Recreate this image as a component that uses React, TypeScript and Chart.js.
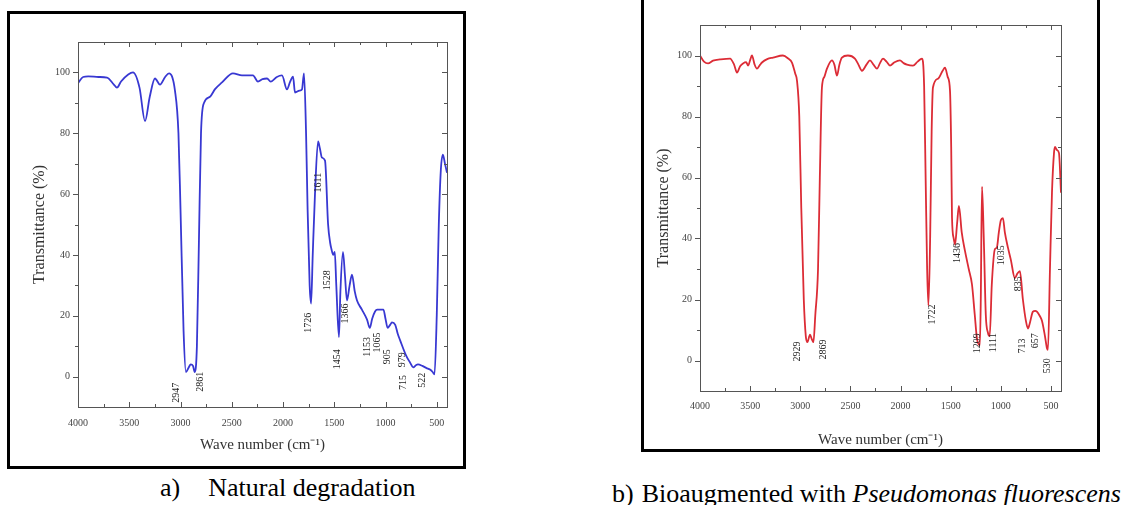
import React, { useEffect, useRef } from "react";
import { Chart, registerables } from "chart.js";

Chart.register(...registerables);

// ---------- Data: a) Natural degradation ----------
const natWavenumber = [
  4000, 3950, 3900, 3800, 3717, 3650, 3620, 3580, 3510, 3463, 3400, 3346, 3300, 3249, 3200, 3150, 3112,
  3054, 3020, 3000, 2970, 2947, 2920, 2900, 2878, 2861, 2840, 2820, 2800, 2770, 2712, 2663, 2595, 2488,
  2400, 2293, 2244, 2200, 2156, 2120, 2060, 2010, 1961, 1930, 1902, 1883, 1840, 1815, 1795, 1775, 1760,
  1740, 1726, 1710, 1688, 1658, 1640, 1620, 1590, 1560, 1540, 1528, 1510, 1495, 1480, 1454, 1440, 1415,
  1395, 1376, 1350, 1327, 1300, 1278, 1230, 1180, 1153, 1130, 1102, 1080, 1054, 1020, 1000, 979, 955,
  937, 905, 880, 858, 800, 760, 730, 700, 683, 640, 600, 566, 540, 522, 500, 480, 460, 440, 420, 400,
];
const natTransmittance = [
  96.5, 98.5, 98.7, 98.5, 98.3, 96, 95, 97, 99.3, 100, 95, 84, 92, 98, 96, 98.5, 99.7,
  94, 80, 55, 15, 1.5, 3, 4, 3.5, 1.5, 10, 45, 80, 90, 92, 94.5, 96.7, 99.7,
  99, 99, 97, 97.8, 98, 97, 98.5, 99, 94.4, 97, 98.6, 93.4, 94, 94.4, 99.7, 80, 55,
  30, 24, 40, 60, 77.3, 75, 72, 71, 50, 44, 42, 40, 41, 30, 13, 28, 41,
  33, 25, 30, 33.5, 28, 25, 22, 18.7, 16, 19, 21.4, 22, 22, 22, 19, 16, 17,
  17.8, 17, 14, 12, 7, 4.6, 3, 3.8, 4, 3.5, 2.8, 2.3, 1.5, 0.7, 20, 50, 68, 73, 70, 67,
];
const natPeakLabels = ["2947", "2861", "1726", "1611", "1528", "1454", "1366", "1153", "1065", "905", "979", "715", "522"];
const natLabelWavenumber = [3044, 2810, 1756, 1659, 1571, 1473, 1395, 1180, 1083, 985, 835, 825, 644];
const natLabelTop = [-2, 1.6, 21, 67, 35, 9, 24, 13, 14.5, 9, 8, 0.5, 1.3];

// ---------- Data: b) Bioaugmented with Pseudomonas fluorescens ----------
const bioWavenumber = [
  4000, 3960, 3920, 3870, 3800, 3700, 3660, 3631, 3600, 3571, 3540, 3520, 3500, 3482, 3455, 3432, 3400,
  3382, 3330, 3272, 3173, 3120, 3083, 3050, 3033, 3010, 2990, 2965, 2945, 2929, 2903, 2885, 2869, 2850,
  2823, 2805, 2784, 2760, 2734, 2684, 2660, 2634, 2610, 2585, 2525, 2455, 2420, 2385, 2340, 2305, 2270,
  2235, 2205, 2175, 2140, 2106, 2060, 2006, 1970, 1936, 1876, 1830, 1787, 1765, 1750, 1735, 1722, 1705,
  1690, 1677, 1627, 1580, 1557, 1530, 1507, 1495, 1487, 1470, 1457, 1436, 1418, 1390, 1358, 1320, 1288,
  1260, 1238, 1209, 1200, 1188, 1170, 1150, 1128, 1111, 1090, 1059, 1040, 1020, 1000, 979, 960, 929,
  900, 860, 835, 810, 780, 750, 730, 713, 680, 657, 640, 610, 590, 560, 540, 530, 510, 490, 470, 460,
  440, 420, 400,
];
const bioTransmittance = [
  100, 98, 97.4, 98.3, 98.7, 99, 97, 94.4, 96.5, 97.4, 97.8, 96.7, 98.5, 100, 97, 95.7, 97,
  97.7, 98.8, 99.3, 100, 99, 97.7, 94, 91.8, 80, 50, 20, 8, 6, 8.5, 7, 6, 15,
  30, 60, 89.5, 93, 95.7, 98.4, 97, 93.4, 97, 99.3, 100, 99, 97, 95, 97, 98.4, 97,
  95.7, 97.5, 99, 98, 96.7, 97.8, 98.4, 97.5, 97, 96.7, 98, 99, 90, 60, 30, 18, 40,
  75, 89.5, 92.4, 95, 96, 93, 88.5, 70, 47, 40, 38, 45, 50.7, 42, 36, 30, 25,
  15, 7.2, 5, 20, 57, 40, 15, 9, 8, 25, 36.5, 37, 42, 46, 46.7, 42, 37,
  33, 27, 28.5, 29.3, 20, 13, 10.5, 12, 16, 16.3, 16, 14.5, 13, 8, 4, 3.5, 30, 55, 68, 70,
  69, 68, 55,
];
const bioPeakLabels = ["2929", "2869", "1722", "1436", "1209", "1111", "1035", "835", "713", "657", "530"];
const bioLabelWavenumber = [3033, 2774, 1687, 1438, 1238, 1079, 999, 829, 790, 660, 540];
const bioLabelTop = [6.2, 6.9, 18.4, 38.5, 8.9, 8.9, 37.8, 27.6, 7.2, 8.9, 0.7];

// ---------- Axis ticks ----------
const xTickValues = [4000, 3500, 3000, 2500, 2000, 1500, 1000, 500];
const yTickValues = [0, 20, 40, 60, 80, 100];

const SERIF = '"Liberation Serif", "Times New Roman", serif';

type Pad = { left: number; right: number; top: number; bottom: number };

interface FtirProps {
  wn: number[];
  tr: number[];
  color: string;
  labels: string[];
  labelWn: number[];
  labelTop: number[];
  width: number;
  height: number;
  left: number;
  top: number;
  pad: Pad;
  yAxisWidth: number;
  xAxisHeight: number;
  yTitlePad: number;
  xTitlePad: number;
  xTickPad: number;
}

function FtirChart(p: FtirProps) {
  const ref = useRef<HTMLCanvasElement | null>(null);
  useEffect(() => {
    if (!ref.current) return;
    const decor = {
      id: "decor",
      afterDatasetsDraw(chart: any) {
        const { ctx, chartArea: a, scales } = chart;
        const x = scales.x;
        const y = scales.y;
        ctx.save();
        ctx.strokeStyle = "#555";
        ctx.lineWidth = 1;
        ctx.strokeRect(Math.round(a.left) + 0.5, Math.round(a.top) + 0.5, Math.round(a.right - a.left), Math.round(a.bottom - a.top));
        ctx.beginPath();
        for (let v = 500; v <= 4000; v += 250) {
          const px = Math.round(x.getPixelForValue(v)) + 0.5;
          const len = v % 500 === 0 ? 5 : 3;
          ctx.moveTo(px, a.bottom);
          ctx.lineTo(px, a.bottom - len);
          ctx.moveTo(px, a.top);
          ctx.lineTo(px, a.top + len);
        }
        for (let v = 0; v <= 100; v += 10) {
          const py = Math.round(y.getPixelForValue(v)) + 0.5;
          const len = v % 20 === 0 ? 5 : 3;
          ctx.moveTo(a.left, py);
          ctx.lineTo(a.left - len, py);
          ctx.moveTo(a.right, py);
          ctx.lineTo(a.right - len, py);
        }
        ctx.stroke();
        ctx.fillStyle = "#222";
        ctx.font = `10px ${SERIF}`;
        p.labels.forEach((s, i) => {
          const px = x.getPixelForValue(p.labelWn[i]);
          const py = y.getPixelForValue(p.labelTop[i]);
          ctx.save();
          ctx.translate(px, py);
          ctx.rotate(-Math.PI / 2);
          ctx.textAlign = "right";
          ctx.textBaseline = "middle";
          ctx.fillText(s, 0, 0);
          ctx.restore();
        });
        ctx.restore();
      },
    };

    const chart = new Chart(ref.current, {
      type: "line",
      data: {
        datasets: [
          {
            data: p.wn.map((w, i) => ({ x: w, y: p.tr[i] })),
            borderColor: p.color,
            borderWidth: 1.8,
            pointRadius: 0,
            fill: false,
            cubicInterpolationMode: "monotone",
          },
        ],
      },
      options: {
        animation: false,
        responsive: false,
        maintainAspectRatio: false,
        layout: { padding: p.pad },
        plugins: { legend: { display: false }, tooltip: { enabled: false } },
        scales: {
          x: {
            type: "linear",
            reverse: true,
            min: 400,
            max: 4000,
            afterBuildTicks: (s: any) => {
              s.ticks = xTickValues.map((v) => ({ value: v }));
            },
            afterFit: (s: any) => {
              s.height = p.xAxisHeight;
            },
            grid: { display: false, drawTicks: false },
            border: { display: false },
            ticks: {
              padding: p.xTickPad,
              autoSkip: false,
              maxRotation: 0,
              color: "#444",
              font: { family: SERIF, size: 10 },
              callback: (v: any) => String(v),
            },
            title: {
              display: true,
              text: "Wave number (cm\u207B\u00B9)",
              color: "#333",
              font: { family: SERIF, size: 15 },
              padding: { top: 0, bottom: p.xTitlePad },
            },
          },
          y: {
            type: "linear",
            min: -10,
            max: 110,
            afterBuildTicks: (s: any) => {
              s.ticks = yTickValues.map((v) => ({ value: v }));
            },
            afterFit: (s: any) => {
              s.width = p.yAxisWidth;
            },
            grid: { display: false, drawTicks: false },
            border: { display: false },
            ticks: {
              padding: 8,
              color: "#444",
              font: { family: SERIF, size: 10 },
              callback: (v: any) => String(v),
            },
            title: {
              display: true,
              text: "Transmittance (%)",
              color: "#333",
              font: { family: SERIF, size: 16 },
              padding: { top: p.yTitlePad, bottom: 0 },
            },
          },
        },
      },
      plugins: [decor],
    } as any);
    return () => chart.destroy();
  }, []);
  return (
    <canvas
      ref={ref}
      width={p.width}
      height={p.height}
      style={{ position: "absolute", left: p.left, top: p.top, width: p.width, height: p.height }}
    />
  );
}

export default function App() {
  return (
    <div
      style={{
        position: "absolute",
        left: 0,
        top: 0,
        width: 1138,
        height: 505,
        background: "#fff",
        overflow: "hidden",
        fontFamily: SERIF,
        color: "#000",
      }}
    >
      <div
        style={{
          position: "absolute",
          left: 7,
          top: 11,
          width: 459,
          height: 458,
          border: "3px solid #000",
          boxSizing: "border-box",
        }}
      />
      <FtirChart
        wn={natWavenumber}
        tr={natTransmittance}
        color="#3838d2"
        labels={natPeakLabels}
        labelWn={natLabelWavenumber}
        labelTop={natLabelTop}
        left={10}
        top={14}
        width={453}
        height={452}
        pad={{ left: 8, right: 16, top: 28, bottom: 4 }}
        yAxisWidth={60}
        xAxisHeight={55}
        yTitlePad={12}
        xTitlePad={8}
        xTickPad={10}
      />
      <div
        style={{
          position: "absolute",
          left: 641,
          top: -3,
          width: 459,
          height: 455,
          border: "3px solid #000",
          boxSizing: "border-box",
        }}
      />
      <FtirChart
        wn={bioWavenumber}
        tr={bioTransmittance}
        color="#dc2c36"
        labels={bioPeakLabels}
        labelWn={bioLabelWavenumber}
        labelTop={bioLabelTop}
        left={644}
        top={0}
        width={453}
        height={449}
        pad={{ left: 3, right: 36, top: 25, bottom: 0 }}
        yAxisWidth={53}
        xAxisHeight={58}
        yTitlePad={7}
        xTitlePad={0}
        xTickPad={9}
      />
      <div style={{ position: "absolute", left: 160, top: 473, fontSize: 26, whiteSpace: "nowrap", lineHeight: "normal" }}>
        a)<span style={{ marginLeft: 28 }}>Natural degradation</span>
      </div>
      <div style={{ position: "absolute", left: 612, top: 479, fontSize: 26, whiteSpace: "nowrap", lineHeight: "normal" }}>
        b)<span style={{ marginLeft: 8 }}>
          Bioaugmented with <i>Pseudomonas fluorescens</i>
        </span>
      </div>
    </div>
  );
}
